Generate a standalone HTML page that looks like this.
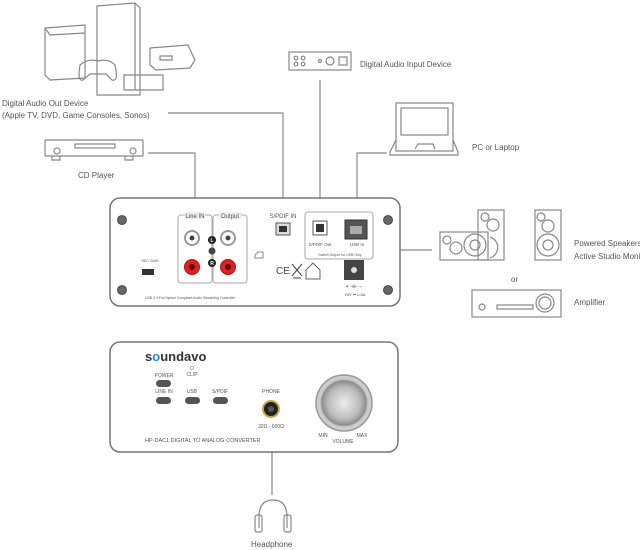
<!DOCTYPE html>
<html><head><meta charset="utf-8"><style>
html,body{margin:0;padding:0;background:#fff;}
svg{display:block;font-family:"Liberation Sans",sans-serif;}
</style></head><body>
<svg width="640" height="550" viewBox="0 0 640 550" xmlns="http://www.w3.org/2000/svg">
<g fill="none" stroke="#888" stroke-width="1.2">
 <path d="M45 28 L85 25 L85 78 L50 80 L45 75 Z M45 28 L50 35 L85 33"/>
 <path d="M97 6 L135 3 L140 8 L140 95 L97 95 Z M135 3 L135 90"/>
 <path d="M80 65 Q77 82 83 80 L90 74 L106 74 L112 80 Q119 82 115 65 Q108 58 98 61 Q88 58 80 65 Z"/>
 <path d="M124 75 L163 75 L163 90 L124 90 Z"/>
 <path d="M150 48 L188 45 L195 60 L190 68 L156 70 L150 65 Z M160 56 L172 56 L172 60 L160 60 Z"/>
 <path d="M168 113 L283 113 L283 215"/>
 <path d="M148 153 L195 153 L195 215"/>
 <path d="M320 80 L320 215"/>
 <path d="M387 153 L357 153 L357 215"/>
 <path d="M245 250 L432 250"/>
 <path d="M272 452 L272 495"/>
 <rect x="45" y="140" width="98" height="16" rx="1"/>
 <rect x="75" y="144" width="40" height="4"/>
 <circle cx="57" cy="151" r="3"/><circle cx="133" cy="151" r="3"/>
 <path d="M52 156 L52 160 L60 160 L60 156 M125 156 L125 160 L133 160 L133 156"/>
 <rect x="289" y="52" width="62" height="18"/>
 <circle cx="296" cy="58" r="1.8"/><circle cx="303" cy="58" r="1.8"/><circle cx="296" cy="64" r="1.8"/><circle cx="303" cy="64" r="1.8"/>
 <circle cx="320" cy="61" r="1.5"/><circle cx="330" cy="61" r="4"/><rect x="339" y="57" width="8" height="8"/>
 <rect x="396" y="103" width="57" height="48"/><rect x="401" y="108" width="47" height="27"/>
 <path d="M396 140 L390 152 L390 155 L458 155 L458 152 L453 140 M415 149 L418 144 L433 144 L435 149"/>
 <rect x="478" y="210" width="26" height="50"/>
 <rect x="440" y="232" width="48" height="28"/>
 <circle cx="447" cy="240" r="4"/><circle cx="456" cy="248" r="6"/><circle cx="475" cy="245" r="11"/><circle cx="475" cy="245" r="5"/>
 <circle cx="485" cy="217" r="4"/><circle cx="493" cy="225" r="6"/><path d="M490 237 A11 11 0 0 1 490 258"/>
 <rect x="535" y="210" width="26" height="50"/>
 <circle cx="541" cy="217" r="4"/><circle cx="548" cy="226" r="6"/><circle cx="548" cy="245" r="11"/><circle cx="548" cy="245" r="5"/>
 <rect x="472" y="290" width="89" height="27"/>
 <circle cx="482" cy="307" r="3"/><rect x="497" y="305" width="36" height="4"/><circle cx="545" cy="303" r="9"/><circle cx="545" cy="303" r="6"/>
 <path d="M259 528 L259 517 Q259 500 273 500 Q287 500 287 517 L287 528"/>
 <rect x="255" y="515" width="7" height="17" rx="2"/><rect x="284" y="515" width="7" height="17" rx="2"/>
</g>
<rect x="110" y="198" width="290" height="108" rx="10" fill="#fff" stroke="#777" stroke-width="1.5"/>
<g fill="#666" stroke="#333" stroke-width="0.8">
 <circle cx="122" cy="220" r="4.5"/><circle cx="122" cy="290" r="4.5"/><circle cx="388" cy="220" r="4.5"/><circle cx="388" cy="290" r="4.5"/>
 <circle cx="122" cy="370" r="4.5"/><circle cx="122" cy="436" r="4.5"/><circle cx="388" cy="370" r="4.5"/><circle cx="388" cy="436" r="4.5"/>
</g>
<g fill="none" stroke="#aaa" stroke-width="1">
 <rect x="178" y="215" width="34" height="68" rx="3"/><rect x="213" y="215" width="34" height="68" rx="3"/>
 <rect x="305" y="212" width="68" height="47" rx="3"/>
</g>
<rect x="185" y="212" width="20" height="7" fill="#eee"/><rect x="219" y="212" width="22" height="7" fill="#eee"/>
<g font-size="6" fill="#555" text-anchor="middle">
 <text x="195" y="218">Line IN</text><text x="230" y="218">Output</text>
 <text x="283" y="218">S/PDIF IN</text>
 <text x="320" y="246" font-size="4.5">S/PDIF Out</text><text x="357" y="246" font-size="4.5">USB In</text>
 <text x="340" y="256" font-size="3.5">Switch Output  for USB Only</text>
 <text x="150" y="262" font-size="3.5">REC GAIN</text>
 <text x="190" y="299" font-size="3.5">USB 2.0 Full Speed Compliant Audio Streaming Controller</text>
 <text x="355" y="296" font-size="4">25V ⎓ 0.6A</text>
</g>
<g>
 <circle cx="192" cy="238" r="7" fill="#fff" stroke="#999" stroke-width="2"/><circle cx="192" cy="238" r="2.5" fill="#444"/>
 <circle cx="228" cy="238" r="7" fill="#fff" stroke="#999" stroke-width="2"/><circle cx="228" cy="238" r="2.5" fill="#444"/>
 <circle cx="192" cy="267" r="7.5" fill="#d22" stroke="#a11" stroke-width="1"/><circle cx="192" cy="267" r="3" fill="#600"/>
 <circle cx="228" cy="267" r="7.5" fill="#d22" stroke="#a11" stroke-width="1"/><circle cx="228" cy="267" r="3" fill="#600"/>
 <circle cx="212" cy="240" r="4" fill="#222"/><circle cx="212" cy="251" r="3.5" fill="#444"/><circle cx="212" cy="263" r="4" fill="#222"/>
 <text x="212" y="242" font-size="5" fill="#fff" text-anchor="middle" font-weight="bold">L</text>
 <text x="212" y="265" font-size="5" fill="#fff" text-anchor="middle" font-weight="bold">R</text>
 <rect x="276" y="223" width="14" height="12" fill="#ddd" stroke="#555"/><rect x="279" y="226" width="8" height="6" fill="#333"/>
 <rect x="313" y="221" width="14" height="14" fill="#fff" stroke="#555"/><rect x="316" y="224" width="8" height="8" fill="#333"/>
 <rect x="345" y="220" width="22" height="19" fill="#555" stroke="#333"/><rect x="350" y="226" width="12" height="8" fill="#aaa"/>
 <rect x="344" y="260" width="20" height="20" fill="#444"/><circle cx="354" cy="270" r="3" fill="#ddd"/>
 <rect x="142" y="269" width="12" height="6" fill="#333"/>
 <path d="M255 258 L263 258 L263 252 L258 252 L255 255 Z" fill="none" stroke="#888"/>
 <text x="276" y="274" font-size="10" fill="#444">CE</text>
 <path d="M292 264 L302 276 M302 264 L292 276 M293 278 L301 278" stroke="#444" fill="none"/>
 <path d="M306 279 L306 270 L313 263 L320 270 L320 279 Z" stroke="#666" fill="none"/>
 <text x="354" y="288" font-size="5" fill="#444" text-anchor="middle">+ -⊖- −</text>
</g>
<rect x="110" y="342" width="288" height="110" rx="10" fill="#fff" stroke="#777" stroke-width="1.5"/>
<text x="145" y="361" font-size="13" font-weight="bold" fill="#333">s<tspan fill="#2a8ad0">o</tspan>undavo</text>
<g font-size="5" fill="#555" text-anchor="middle">
 <text x="164" y="377">POWER</text><text x="192" y="376">CLIP</text>
 <text x="164" y="393">LINE IN</text><text x="192" y="393">USB</text><text x="220" y="393">S/PDIF</text>
 <text x="271" y="393">PHONE</text><text x="271" y="428">32Ω - 600Ω</text>
 <text x="323" y="437">MIN</text><text x="362" y="437">MAX</text><text x="343" y="443">VOLUME</text>
</g>
<text x="145" y="442" font-size="5.5" fill="#555">HP-DAC1  DIGITAL TO ANALOG CONVERTER</text>
<circle cx="192" cy="368" r="1.5" fill="none" stroke="#777" stroke-width="0.6"/>
<g fill="#555">
 <rect x="156" y="380" width="15" height="7" rx="3.5"/>
 <rect x="156" y="397" width="15" height="7" rx="3.5"/><rect x="185" y="397" width="15" height="7" rx="3.5"/><rect x="213" y="397" width="15" height="7" rx="3.5"/>
</g>
<circle cx="271" cy="409" r="8" fill="#222" stroke="#c9a64a" stroke-width="2"/><circle cx="271" cy="409" r="3" fill="#555"/>
<defs><radialGradient id="k" cx="0.5" cy="0.5" r="0.5"><stop offset="0" stop-color="#eee"/><stop offset="0.7" stop-color="#bbb"/><stop offset="1" stop-color="#888"/></radialGradient></defs>
<circle cx="344" cy="403" r="28" fill="#ccc" stroke="#999" stroke-width="1.5"/>
<circle cx="344" cy="403" r="23" fill="url(#k)" stroke="#aaa"/>
<g font-size="8" fill="#555">
 <text x="2" y="106">Digital Audio Out Device</text>
 <text x="2" y="118">(Apple TV, DVD, Game Consoles, Sonos)</text>
 <text x="78" y="178">CD Player</text>
 <text x="360" y="67">Digital Audio Input Device</text>
 <text x="472" y="150">PC or Laptop</text>
 <text x="574" y="246">Powered Speakers</text>
 <text x="574" y="259">Active Studio Monitors</text>
 <text x="511" y="282">or</text>
 <text x="574" y="305">Amplifier</text>
 <text x="251" y="547">Headphone</text>
</g>
</svg>
</body></html>
